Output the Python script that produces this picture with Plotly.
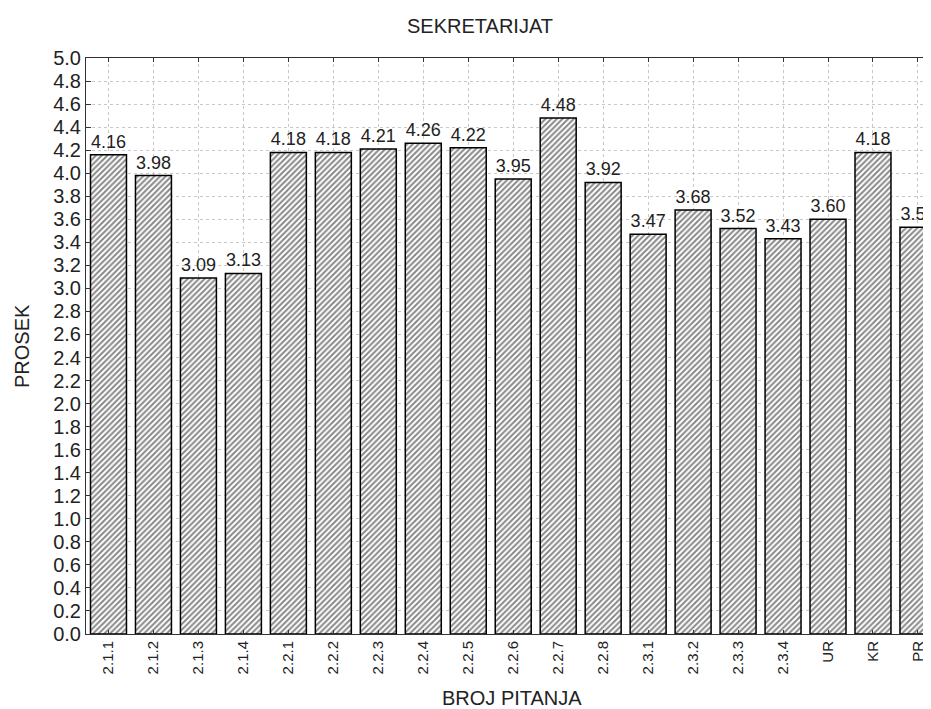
import plotly.graph_objects as go

categories = ["2.1.1", "2.1.2", "2.1.3", "2.1.4", "2.2.1", "2.2.2", "2.2.3", "2.2.4",
              "2.2.5", "2.2.6", "2.2.7", "2.2.8", "2.3.1", "2.3.2", "2.3.3", "2.3.4",
              "UR", "KR", "PR"]
values = [4.16, 3.98, 3.09, 3.13, 4.18, 4.18, 4.21, 4.26, 4.22, 3.95, 4.48, 3.92,
          3.47, 3.68, 3.52, 3.43, 3.60, 4.18, 3.53]
y_ticks = [round(i * 0.2, 1) for i in range(26)]

font_family = "Liberation Sans, Arial, sans-serif"

# page body has an 8px margin, so the figure is sized to fit the 931x709 window
W, H = 923, 701

fig = go.Figure(go.Bar(
    x=categories,
    y=values,
    text=[f"{v:.2f}" for v in values],
    textposition="outside",
    textfont=dict(family=font_family, size=18, color="#222"),
    marker=dict(
        color="white",
        line=dict(color="black", width=1.5),
        pattern=dict(shape="/", fgcolor="#111", bgcolor="white", size=4, solidity=0.5),
    ),
    cliponaxis=True,
))

fig.update_layout(
    width=W, height=H,
    margin=dict(l=78, r=0, t=50, b=75, autoexpand=False),
    paper_bgcolor="white", plot_bgcolor="white",
    bargap=0.2,
    showlegend=False,
    font=dict(family=font_family, color="#222"),
    title=dict(text="SEKRETARIJAT", x=472 / W, xanchor="center", y=1 - 18 / H,
               yanchor="middle", font=dict(size=20, color="#222")),
    xaxis=dict(
        range=[-0.5, 18.29],
        tickangle=-90,
        tickfont=dict(size=15, color="#222"),
        ticks="inside", ticklen=4, tickcolor="#333",
        showline=True, linecolor="#333", linewidth=1, mirror="ticks",
        showgrid=True, gridcolor="#c8c8c8", griddash="dot", gridwidth=1,
        automargin=False,
    ),
    yaxis=dict(
        range=[0, 5.0],
        tickvals=y_ticks,
        ticktext=[f"{t:.1f}" for t in y_ticks],
        tickfont=dict(size=20, color="#222"),
        ticks="inside", ticklen=5, tickcolor="#333",
        showline=True, linecolor="#333", linewidth=1, mirror="ticks",
        showgrid=True, gridcolor="#c8c8c8", griddash="dot", gridwidth=1,
        zeroline=False,
        automargin=False,
    ),
    annotations=[
        dict(text="BROJ PITANJA", xref="paper", yref="paper", x=(512 - 86) / 845, y=0,
             xanchor="center", yanchor="middle", yshift=-64, showarrow=False,
             font=dict(size=20, color="#222")),
        dict(text="PROSEK", xref="paper", yref="paper", x=0, y=0.5, textangle=-90,
             xanchor="center", yanchor="middle", xshift=-64, showarrow=False,
             font=dict(size=20, color="#222")),
    ],
)

fig.write_html("out.html")
